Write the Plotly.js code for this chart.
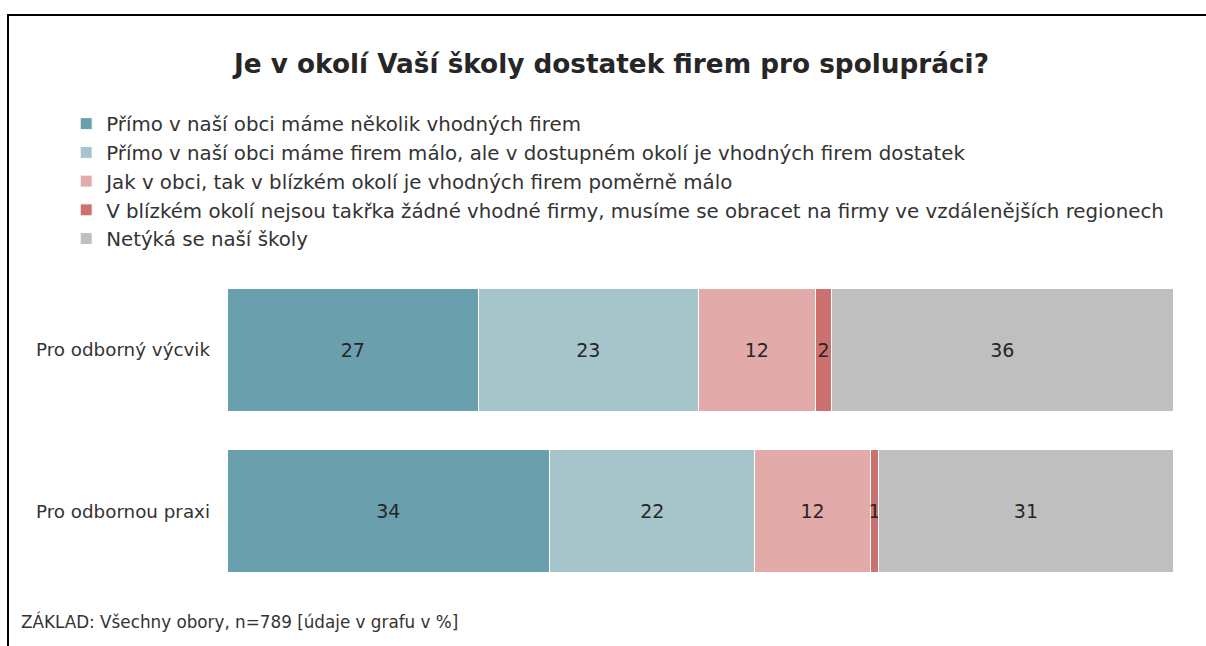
<!DOCTYPE html>
<html>
<head>
<meta charset="utf-8">
<script src="https://cdn.plot.ly/plotly-3.0.1.min.js"></script>
<style>
  html, body { margin: 0; padding: 0; background: #fff; }
  #chart { width: 1206px; height: 646px; position: absolute; left: 0; top: 0; }
  #frame { position: absolute; left: 7px; top: 14px; width: 1210px; height: 640px;
           border-top: 2px solid #000; border-left: 2px solid #000; pointer-events: none; }
</style>
</head>
<body>
<div id="chart"></div>
<div id="frame"></div>
<script>
// ---- data ----
const categories = ["Pro odborný výcvik", "Pro odbornou praxi"];
const seriesNames = [
  "Přímo v naší obci máme několik vhodných firem",
  "Přímo v naší obci máme firem málo, ale v dostupném okolí je vhodných firem dostatek",
  "Jak v obci, tak v blízkém okolí je vhodných firem poměrně málo",
  "V blízkém okolí nejsou takřka žádné vhodné firmy, musíme se obracet na firmy ve vzdálenějších regionech",
  "Netýká se naší školy"
];
const s1 = [26.6, 34.1];
const s2 = [23.2, 21.7];
const s3 = [12.4, 12.2];
const s4 = [1.7, 0.9];
const s5 = [36.1, 31.1];
const seriesValues = [s1, s2, s3, s4, s5];
const colors = ["#6a9fae", "#a6c5cb", "#e2abaa", "#cd7170", "#bfbfbf"];
const titleText = "Je v okolí Vaší školy dostatek firem pro spolupráci?";
const noteText = "ZÁKLAD: Všechny obory, n=789 [údaje v grafu v %]";

const FONT = "DejaVu Sans, Verdana, sans-serif";

const traces = seriesValues.map((vals, i) => ({
  type: "bar",
  orientation: "h",
  name: seriesNames[i],
  y: categories,
  x: vals,
  text: vals.map(v => String(Math.round(v))),
  textposition: "inside",
  insidetextanchor: "middle",
  constraintext: "none",
  textangle: 0,
  insidetextfont: { family: FONT, size: 19, color: "#262626" },
  marker: { color: colors[i], line: { color: "#ffffff", width: 1 } },
  legendgroup: "g" + i,
  hoverinfo: "name+x"
}));

const layout = {
  width: 1206,
  height: 646,
  paper_bgcolor: "rgba(0,0,0,0)",
  plot_bgcolor: "rgba(0,0,0,0)",
  barmode: "stack",
  bargap: 0.237,
  margin: { l: 227, r: 33, t: 269, b: 54 },
  font: { family: FONT, color: "#333333" },
  title: {
    text: "<b>" + titleText + "</b>",
    font: { family: FONT, size: 26.3, color: "#262626" },
    xref: "container", yref: "container",
    x: 0.507, xanchor: "center",
    y: 0.902, yanchor: "middle"
  },
  xaxis: {
    range: [0, 100],
    showgrid: false, zeroline: false, showline: false,
    showticklabels: false, ticks: "", fixedrange: true
  },
  yaxis: {
    type: "category",
    autorange: "reversed",
    showgrid: false, zeroline: false, showline: false,
    ticks: "",
    ticklabelstandoff: 16,
    tickfont: { family: FONT, size: 18.3, color: "#333333" },
    fixedrange: true
  },
  showlegend: true,
  legend: {
    x: -0.170, xanchor: "left",
    y: 1.51, yanchor: "top",
    orientation: "v",
    traceorder: "grouped",
    tracegroupgap: 0,
    font: { family: FONT, size: 19.8, color: "#333333" },
    bgcolor: "rgba(0,0,0,0)",
    borderwidth: 0
  },
  annotations: [{
    text: noteText,
    xref: "paper", yref: "paper",
    x: -0.220, xanchor: "left",
    y: -0.09, yanchor: "middle",
    showarrow: false,
    font: { family: FONT, size: 16.8, color: "#333333" }
  }]
};

Plotly.newPlot("chart", traces, layout, { displayModeBar: false, staticPlot: true });
</script>
</body>
</html>
